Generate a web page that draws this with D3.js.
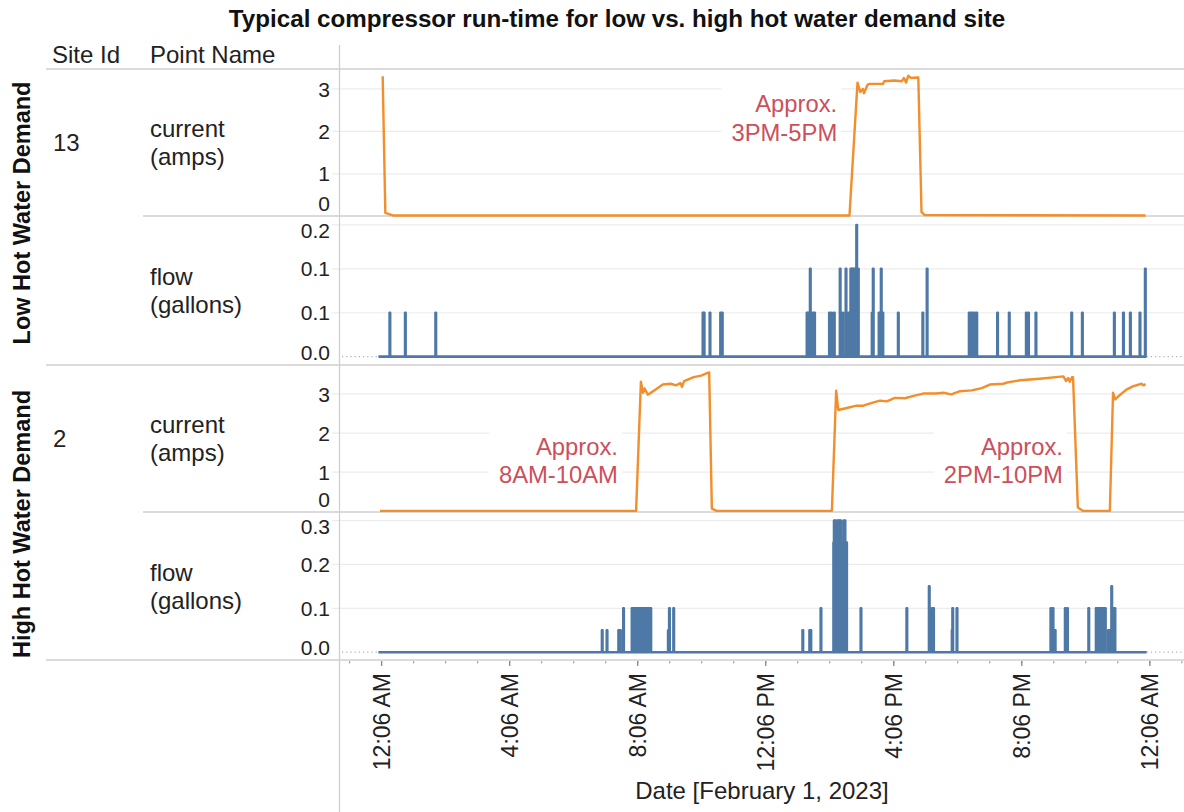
<!DOCTYPE html>
<html><head><meta charset="utf-8">
<script src="https://cdn.jsdelivr.net/npm/d3@7"></script>
<style>
body{margin:0;background:#fff;}
text{font-family:Arial,"Liberation Sans",sans-serif;}
</style>
</head><body>
<svg id="chart" width="1184" height="812"></svg>
<script>
// ---------------- data ----------------
const chartTitle = "Typical compressor run-time for low vs. high hot water demand site";
const headerLabels = ["Site Id", "Point Name"];
const demandGroups = ["Low Hot Water Demand", "High Hot Water Demand"];
const siteIds = ["13", "2"];
const pointNames = [["current", "(amps)"], ["flow", "(gallons)"]];
const axisTitle = "Date [February 1, 2023]";

const currentTicks = [0, 1, 2, 3];
const currentTickLabels = ["0", "1", "2", "3"];
const flowTicksSite13 = [0, 0.05, 0.10, 0.15];
const flowTickLabelsSite13 = ["0.0", "0.1", "0.1", "0.2"];
const flowTicksSite2 = [0, 0.1, 0.2, 0.3];
const flowTickLabelsSite2 = ["0.0", "0.1", "0.2", "0.3"];

// x-axis major tick times (minutes after midnight, Feb 1 2023)
const majorTickMinutes = [6, 246, 486, 726, 966, 1206, 1446];

// compressor current, [minute of day, amps]
const site13Current = [[8,3.30],[13,0.08],[27,0.02],[883,0.02],[898,3.15],[903,2.93],[908,3.00],[910,2.90],[917,3.10],[921,3.12],[946,3.12],[948,3.18],[967,3.20],[981,3.18],[985,3.26],[989,3.15],[993,3.31],[998,3.26],[1010,3.27],[1012,3.27],[1018,0.10],[1024,0.03],[1438,0.02]];
const site2Current = [[3,0.01],[483,0.01],[492,3.31],[496,3.03],[499,3.14],[505,2.98],[519,3.11],[533,3.24],[548,3.26],[558,3.22],[566,3.28],[569,3.18],[573,3.33],[591,3.43],[605,3.47],[616,3.53],[620,3.55],[625,0.07],[634,0.01],[850,0.01],[858,3.08],[862,2.59],[878,2.64],[896,2.70],[909,2.70],[925,2.77],[940,2.83],[953,2.81],[968,2.90],[987,2.89],[1003,2.95],[1021,3.01],[1046,3.01],[1059,3.03],[1074,2.99],[1090,3.07],[1112,3.09],[1131,3.15],[1146,3.24],[1171,3.26],[1181,3.30],[1203,3.35],[1240,3.39],[1284,3.45],[1289,3.33],[1293,3.41],[1296,3.31],[1300,3.43],[1302,3.43],[1311,0.10],[1321,0.01],[1371,0.01],[1377,3.03],[1381,2.86],[1387,2.94],[1402,3.11],[1415,3.20],[1431,3.26],[1434,3.22],[1438,3.25]];

// hot water flow events, [minute of day, gallons] (one-minute readings, 0 otherwise)
const site13Flow = [[21,0.05],[50,0.05],[107,0.05],[608,0.05],[610,0.05],[621,0.05],[641,0.05],[644,0.05],[803,0.05],[805,0.05],[807,0.05],[809,0.10],[811,0.05],[814,0.05],[817,0.05],[845,0.05],[849,0.05],[854,0.05],[865,0.10],[870,0.05],[876,0.10],[878,0.05],[881,0.05],[885,0.10],[887,0.10],[889,0.10],[891,0.10],[893,0.10],[895,0.10],[896,0.15],[898,0.10],[899,0.10],[925,0.05],[927,0.10],[938,0.05],[942,0.10],[945,0.05],[974,0.05],[1020,0.05],[1028,0.10],[1107,0.05],[1110,0.05],[1113,0.05],[1117,0.05],[1121,0.05],[1160,0.05],[1182,0.05],[1214,0.05],[1218,0.05],[1232,0.05],[1299,0.05],[1319,0.05],[1379,0.05],[1396,0.05],[1409,0.05],[1427,0.05],[1437,0.10]];
const site2Flow = [[419,0.05],[428,0.05],[450,0.05],[453,0.05],[459,0.10],[475,0.10],[477,0.10],[479,0.10],[481,0.10],[483,0.10],[486,0.10],[488,0.10],[490,0.10],[492,0.10],[495,0.10],[497,0.10],[499,0.10],[502,0.10],[504,0.10],[506,0.10],[508,0.10],[510,0.10],[543,0.05],[545,0.10],[553,0.10],[795,0.05],[808,0.05],[810,0.05],[829,0.10],[853,0.25],[854,0.30],[856,0.30],[857,0.25],[860,0.30],[862,0.30],[864,0.30],[866,0.30],[868,0.25],[872,0.30],[874,0.30],[876,0.25],[877,0.25],[904,0.10],[990,0.10],[1032,0.15],[1034,0.10],[1036,0.05],[1038,0.10],[1040,0.10],[1075,0.05],[1076,0.10],[1084,0.10],[1260,0.10],[1264,0.10],[1268,0.05],[1287,0.10],[1291,0.10],[1331,0.10],[1345,0.10],[1347,0.10],[1349,0.05],[1350,0.10],[1352,0.10],[1354,0.10],[1356,0.10],[1358,0.10],[1360,0.10],[1362,0.10],[1368,0.05],[1371,0.05],[1374,0.15],[1376,0.10],[1378,0.10],[1380,0.10]];
const dayEndMinute = 1440;

// annotations: [panel index, right-edge minute, value of first baseline, lines]
const annotations = [
  [0, 860, 2.45, ["Approx.", "3PM-5PM"]],
  [2, 449, 1.44, ["Approx.", "8AM-10AM"]],
  [2, 1283, 1.44, ["Approx.", "2PM-10PM"]]
];

// ---------------- layout ----------------
const W = 1184, H = 812;
const plotLeft = 340, plotRight = 1184;
const svg = d3.select("#chart");
const base = new Date(2023, 1, 1, 0, 0);
const toDate = m => new Date(base.getTime() + m * 60000);

const x = d3.scaleTime()
  .domain([new Date(2023, 0, 31, 22, 48), new Date(2023, 1, 2, 1, 10)])
  .range([plotLeft, plotRight]);

const panels = [
  {top: 69, bottom: 216, y: d3.scaleLinear().domain([0, 3.47]).range([216.3, 69]), ticks: currentTicks, labels: currentTickLabels, data: site13Current, kind: "current"},
  {top: 216, bottom: 365, y: d3.scaleLinear().domain([-0.0095, 0.1602]).range([365, 216]), ticks: flowTicksSite13, labels: flowTickLabelsSite13, data: site13Flow, kind: "flow"},
  {top: 365, bottom: 512, y: d3.scaleLinear().domain([0, 3.74]).range([511.3, 365]), ticks: currentTicks, labels: currentTickLabels, data: site2Current, kind: "current"},
  {top: 512, bottom: 660, y: d3.scaleLinear().domain([-0.0178, 0.3196]).range([660, 512]), ticks: flowTicksSite2, labels: flowTickLabelsSite2, data: site2Flow, kind: "flow"}
];

const gridColor = "#ececec", ruleColor = "#cfcfcf", textColor = "#222";
const orange = "#f28e2b", blue = "#4e79a7", noteColor = "#cc4f5b";

// title
svg.append("text").attr("x", 617).attr("y", 27).attr("text-anchor", "middle")
  .attr("font-size", 24.2).attr("font-weight", "bold").attr("fill", "#111").text(chartTitle);

// headers
svg.append("text").attr("x", 52).attr("y", 63).attr("font-size", 24).attr("fill", textColor).text(headerLabels[0]);
svg.append("text").attr("x", 150).attr("y", 63).attr("font-size", 24).attr("fill", textColor).text(headerLabels[1]);

// gridlines & y labels
panels.forEach(p => {
  p.ticks.forEach((t, i) => {
    const ty = p.y(t);
    if (t !== 0) {
      svg.append("line").attr("x1", 332).attr("x2", plotRight).attr("y1", ty).attr("y2", ty)
        .attr("stroke", gridColor).attr("stroke-width", 1.2);
    }
    const ly = Math.max(p.top + 14, Math.min(p.bottom - 13, ty));
    svg.append("text").attr("x", 330).attr("y", ly).attr("dy", "0.36em").attr("text-anchor", "end")
      .attr("font-size", 21).attr("fill", textColor).text(p.labels[i]);
  });
});

// rules
const hRule = (x1, y) => svg.append("line").attr("x1", x1).attr("x2", W).attr("y1", y).attr("y2", y)
  .attr("stroke", ruleColor).attr("stroke-width", 1.3);
hRule(46, 69); hRule(143, 216); hRule(46, 365); hRule(143, 512); hRule(46, 660);
svg.append("line").attr("x1", 339.5).attr("x2", 339.5).attr("y1", 45).attr("y2", H)
  .attr("stroke", ruleColor).attr("stroke-width", 1.3);

// row labels
demandGroups.forEach((g, i) => {
  const cy = i === 0 ? 213 : 524;
  svg.append("text").attr("transform", `translate(30,${cy}) rotate(-90)`).attr("text-anchor", "middle")
    .attr("font-size", 23.5).attr("font-weight", "bold").attr("fill", "#111").text(g);
});
siteIds.forEach((s, i) => {
  const p = panels[i * 2];
  svg.append("text").attr("x", 53).attr("y", (p.top + p.bottom) / 2 + 8.5)
    .attr("font-size", 24).attr("fill", textColor).text(s);
});
panels.forEach((p, i) => {
  const names = pointNames[i % 2];
  const cy = (p.top + p.bottom) / 2;
  names.forEach((n, j) => {
    svg.append("text").attr("x", 150).attr("y", cy - 14 + 8.5 + j * 28)
      .attr("font-size", 24).attr("fill", textColor).text(n);
  });
});

// annotations (white box hides gridlines)
annotations.forEach(([pi, m, v, lines]) => {
  const p = panels[pi];
  const g = svg.append("g");
  const ax = x(toDate(m)), ay = p.y(v);
  const t = g.append("text").attr("text-anchor", "end").attr("font-size", 23.8).attr("fill", noteColor);
  lines.forEach((l, j) => t.append("tspan").attr("x", ax).attr("y", ay + j * 28.5).text(l));
  const bb = t.node().getBBox();
  g.insert("rect", "text").attr("x", bb.x - 10).attr("y", bb.y - 3).attr("width", bb.width + 14)
    .attr("height", bb.height + 6).attr("fill", "#fff");
});

// series
const lineGen = p => d3.line().x(d => x(toDate(d[0]))).y(d => p.y(d[1]));
panels.forEach(p => {
  let pts;
  if (p.kind === "current") {
    pts = p.data;
    svg.append("path").attr("d", lineGen(p)(pts)).attr("fill", "none").attr("stroke", orange)
      .attr("stroke-width", 2.4).attr("stroke-linejoin", "round");
  } else {
    pts = [[0, 0]];
    p.data.slice().sort((a, b) => a[0] - b[0]).forEach(([m, v]) => {
      pts.push([m, 0], [m, v], [m + 1, v], [m + 1, 0]);
    });
    pts.push([dayEndMinute, 0]);
    const y0 = p.y(0);
    svg.append("line").attr("x1", plotLeft + 2).attr("x2", x(toDate(0))).attr("y1", y0).attr("y2", y0)
      .attr("stroke", "#a9b3c4").attr("stroke-width", 1.2).attr("stroke-dasharray", "1.2,3");
    svg.append("line").attr("x1", x(toDate(dayEndMinute))).attr("x2", plotRight).attr("y1", y0).attr("y2", y0)
      .attr("stroke", "#a9b3c4").attr("stroke-width", 1.2).attr("stroke-dasharray", "1.2,3");
    svg.append("path").attr("d", lineGen(p)(pts)).attr("fill", "none").attr("stroke", blue)
      .attr("stroke-width", 2.6).attr("stroke-linejoin", "round");
  }
});

// x axis
const axisY = 660;
const fmt = d3.timeFormat("%-I:%M %p");
const minorTicks = d3.timeMinute.every(60).range(x.domain()[0], x.domain()[1])
  .map(d => new Date(d.getTime() + 6 * 60000)).filter(d => d <= x.domain()[1]);
minorTicks.forEach(d => {
  svg.append("line").attr("x1", x(d)).attr("x2", x(d)).attr("y1", axisY + 1).attr("y2", axisY + 3.5)
    .attr("stroke", "#999").attr("stroke-width", 1);
});
majorTickMinutes.forEach(m => {
  const d = toDate(m), px = x(d);
  svg.append("line").attr("x1", px).attr("x2", px).attr("y1", axisY + 1).attr("y2", axisY + 6)
    .attr("stroke", "#888").attr("stroke-width", 1.3);
  svg.append("text").attr("transform", `translate(${px},673) rotate(-90)`).attr("text-anchor", "end")
    .attr("dy", "0.36em").attr("font-size", 23).attr("fill", textColor).text(fmt(d));
});
svg.append("text").attr("x", 762).attr("y", 799).attr("text-anchor", "middle")
  .attr("font-size", 24).attr("fill", textColor).text(axisTitle);
</script>
</body></html>
